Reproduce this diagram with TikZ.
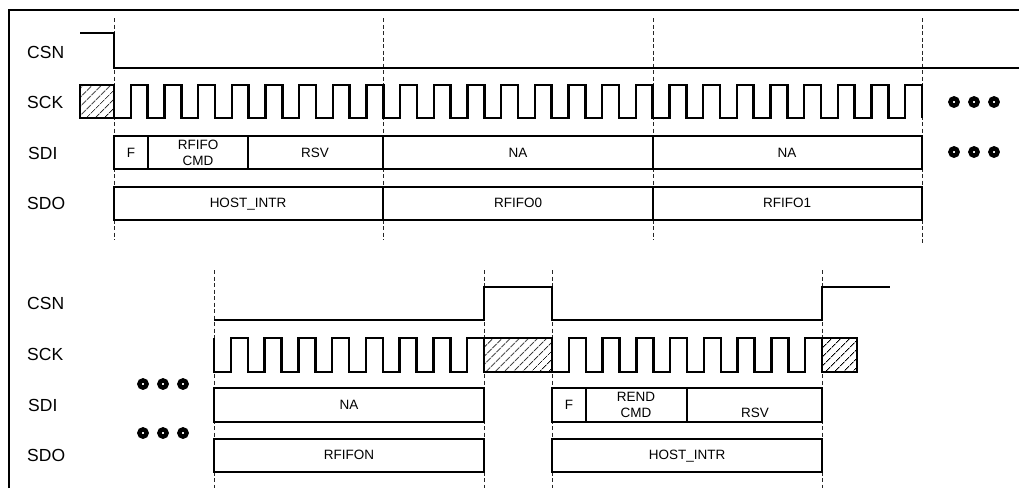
\documentclass[tikz,border=0pt]{standalone}
\usepackage{fontspec}
\setmainfont{Liberation Sans}
\usetikzlibrary{patterns.meta}

\tikzset{
  sig/.style={line width=2.5pt},
  bus/.style={line width=2.8pt},
  guide/.style={line width=0.8pt, dash pattern=on 4pt off 2.5pt, black!85},
  hatchbox/.style={line width=2.5pt, pattern={Lines[angle=45,distance=6.5pt,line width=0.8pt]}},
  siglabel/.style={anchor=west, inner sep=0pt, font=\fontsize{17.5}{20}\selectfont},
  fieldtext/.style={inner sep=0pt, align=center, font=\fontsize{13.5}{16}\selectfont},
  moredots/.style={line width=4.4pt}
}

\begin{document}
\begin{tikzpicture}[x=1pt, y=-1pt]
\useasboundingbox (0,0) rectangle (1019,488);

%frame
\draw[line width=2.2pt] (9,488) -- (9,10) -- (1019,10);

%dashed guides, top half
\foreach \x in {114,383,653} \draw[guide] (\x,18) -- (\x,240);
\draw[guide] (922,18) -- (922,245);
%dashed guides, bottom half
\foreach \x in {214,484,552,822} \draw[guide] (\x,270) -- (\x,488);

%signal names
\node[siglabel] (csnA) at (27,52) {CSN};
\node[siglabel] (sckA) at (27,102) {SCK};
\node[siglabel] (sdiA) at (28,153) {SDI};
\node[siglabel] (sdoA) at (27,203) {SDO};
\node[siglabel] (csnB) at (27,303) {CSN};
\node[siglabel] (sckB) at (27,354) {SCK};
\node[siglabel] (sdiB) at (28,405) {SDI};
\node[siglabel] (sdoB) at (27,455) {SDO};

%top half: CSN
\draw[sig] (80,33) -- (114,33) -- (114,68) -- (1019,68);

%top half: SCK
\draw[hatchbox] (80,85) rectangle (114,118);
\draw[sig] (114,118) \foreach \k in {1,...,24} { -- ++(16.833,0) -- ++(0,-33) -- ++(16.833,0) -- ++(0,33) };

%top half: SDI
\draw[bus] (114,136) rectangle (922,169);
\foreach \x in {148,248,383,653} \draw[bus] (\x,136) -- (\x,169);
\node[fieldtext] (fA) at (131,153) {F};
\node[fieldtext] (cmdA) at (198,153) {RFIFO\\CMD};
\node[fieldtext] (rsvA) at (315,153) {RSV};
\node[fieldtext] (naA) at (518,153) {NA};
\node[fieldtext] (naB) at (787,153) {NA};

%top half: SDO
\draw[bus] (114,187) rectangle (922,220);
\foreach \x in {383,653} \draw[bus] (\x,187) -- (\x,220);
\node[fieldtext, text depth=0pt] (hostA) at (248,203) {HOST\_INTR};
\node[fieldtext] (fifoA) at (518,203) {RFIFO0};
\node[fieldtext] (fifoB) at (787,203) {RFIFO1};

%top half: more cycles
\foreach \x in {954,974,994} {
  \draw[moredots] (\x,102) circle (3.6);
  \draw[moredots] (\x,152) circle (3.6);
}

%bottom half: CSN
\draw[sig] (214,320) -- (484,320) -- (484,287) -- (552,287) -- (552,320) -- (822,320) -- (822,287) -- (890,287);

%bottom half: SCK
\draw[sig] (214,338) -- (214,372) \foreach \k in {1,...,8} { -- ++(16.875,0) -- ++(0,-34) -- ++(16.875,0) -- ++(0,34) };
\draw[hatchbox] (484,338) rectangle (552,372);
\draw[sig] (552,372) \foreach \k in {1,...,8} { -- ++(16.875,0) -- ++(0,-34) -- ++(16.875,0) -- ++(0,34) };
\draw[hatchbox] (822,338) rectangle (857,372);

%bottom half: SDI
\draw[bus] (214,388) rectangle (484,422);
\node[fieldtext] (naC) at (349,405) {NA};
\draw[bus] (552,388) rectangle (822,422);
\foreach \x in {586,687} \draw[bus] (\x,388) -- (\x,422);
\node[fieldtext] (fB) at (569,405) {F};
\node[fieldtext] (cmdB) at (636,405) {REND\\CMD};
\node[fieldtext] (rsvB) at (755,413) {RSV};

%bottom half: SDO
\draw[bus] (214,439) rectangle (484,472);
\node[fieldtext] (fifoN) at (349,455) {RFIFON};
\draw[bus] (552,439) rectangle (822,472);
\node[fieldtext, text depth=0pt] (hostB) at (687,455) {HOST\_INTR};

%bottom half: earlier cycles
\foreach \x in {143,163,183} {
  \draw[moredots] (\x,384) circle (3.6);
  \draw[moredots] (\x,433) circle (3.6);
}
\end{tikzpicture}
\end{document}
